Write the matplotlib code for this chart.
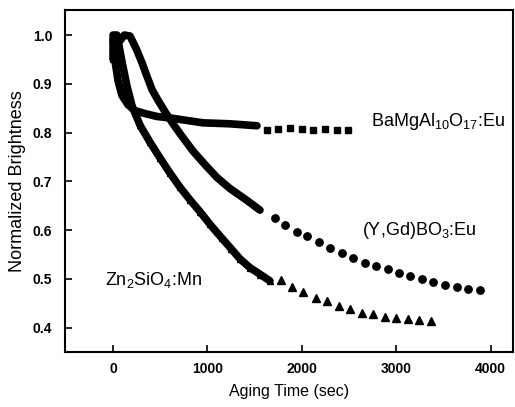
import numpy as np
import matplotlib
matplotlib.use('Agg')
import matplotlib.pyplot as plt

plt.rcParams['font.family'] = ['Liberation Sans', 'DejaVu Sans']
plt.rcParams['mathtext.fontset'] = 'custom'
plt.rcParams['mathtext.rm'] = 'Liberation Sans'

# Zn2SiO4:Mn (triangles) - dense part, then sparse markers
zn_t_dense = [0, 0, 0, 20, 42, 95, 148, 201, 286, 392, 497, 603, 709, 815, 920, 1026,
              1150, 1250, 1344, 1450, 1560, 1661]
zn_y_dense = [0.95, 0.97, 0.99, 1.0, 1.0, 0.945, 0.895, 0.855, 0.815, 0.78, 0.748, 0.717,
              0.688, 0.662, 0.638, 0.612, 0.584, 0.562, 0.541, 0.523, 0.509, 0.496]
zn_t = [1778, 1894, 2011, 2148, 2265, 2392, 2508, 2635, 2751, 2878, 2995, 3122, 3238, 3365]
zn_y = [0.498, 0.484, 0.473, 0.461, 0.455, 0.445, 0.439, 0.431, 0.429, 0.422, 0.420,
        0.418, 0.416, 0.414]

# (Y,Gd)BO3:Eu (circles)
yg_t_dense = [60, 120, 180, 250, 307, 360, 413, 480, 550, 635, 720, 847, 980, 1100,
              1240, 1418, 1556]
yg_y_dense = [0.985, 1.0, 0.998, 0.97, 0.943, 0.915, 0.888, 0.865, 0.843, 0.818, 0.795,
              0.762, 0.733, 0.708, 0.685, 0.661, 0.641]
yg_t = [1714, 1820, 1947, 2053, 2180, 2296, 2423, 2540, 2667, 2783, 2910, 3026, 3143,
        3270, 3386, 3513, 3640, 3757, 3884]
yg_y = [0.624, 0.610, 0.596, 0.588, 0.576, 0.563, 0.553, 0.543, 0.533, 0.527, 0.520,
        0.512, 0.506, 0.500, 0.494, 0.488, 0.484, 0.480, 0.478]

# BaMgAl10O17:Eu (squares)
ba_t_dense = [0, 21, 53, 95, 159, 233, 339, 466, 603, 780, 952, 1100, 1238, 1380, 1524]
ba_y_dense = [1.0, 0.947, 0.906, 0.876, 0.857, 0.845, 0.839, 0.833, 0.830, 0.825, 0.820,
              0.819, 0.818, 0.816, 0.814]
ba_t = [1630, 1746, 1873, 2000, 2116, 2243, 2370, 2487]
ba_y = [0.806, 0.807, 0.809, 0.807, 0.805, 0.807, 0.806, 0.805]

fig = plt.figure(figsize=(5.15, 4.07), dpi=100)
ax = fig.add_axes([0.126, 0.135, 0.870, 0.840])

ax.plot(ba_t_dense, ba_y_dense, '-', color='k', lw=5.5, solid_capstyle='round')
ax.plot(ba_t, ba_y, 's', color='k', ms=4.5)

ax.plot(yg_t_dense, yg_y_dense, '-', color='k', lw=5.5, solid_capstyle='round')
ax.plot(yg_t, yg_y, 'o', color='k', ms=5.3)

ax.plot(zn_t_dense, zn_y_dense, '-', color='k', lw=5.5, solid_capstyle='round')
ax.plot(zn_t_dense, zn_y_dense, '^', color='k', ms=4.5)
ax.plot(zn_t, zn_y, '^', color='k', ms=6.3)

ax.text(2730, 0.814, r'BaMgAl$_{\mathregular{10}}$O$_{\mathregular{17}}$:Eu', fontsize=13, va='baseline')
ax.text(2635, 0.590, r'(Y,Gd)BO$_{\mathregular{3}}$:Eu', fontsize=13, va='baseline')
ax.text(-85, 0.488, r'Zn$_{\mathregular{2}}$SiO$_{\mathregular{4}}$:Mn', fontsize=13, va='baseline')

ax.set_xlim(-510, 4235)
ax.set_ylim(0.35, 1.051)
ax.set_xticks([0, 1000, 2000, 3000, 4000])
ax.set_yticks([0.4, 0.5, 0.6, 0.7, 0.8, 0.9, 1.0])
ax.set_yticklabels(['0.4', '0.5', '0.6', '0.7', '0.8', '0.9', '1.0'])
ax.tick_params(direction='in', length=5, width=1.2, labelsize=10)
ax.tick_params(axis='y', pad=9)
ax.tick_params(axis='x', pad=7)
for lab in ax.get_xticklabels() + ax.get_yticklabels():
    lab.set_fontweight('bold')
for s in ax.spines.values():
    s.set_linewidth(1.5)

ax.set_xlabel('Aging Time (sec)', fontsize=11.5, labelpad=6)
ax.set_ylabel('Normalized Brightness', fontsize=13, labelpad=5)

fig.savefig('out.png', dpi=100)
